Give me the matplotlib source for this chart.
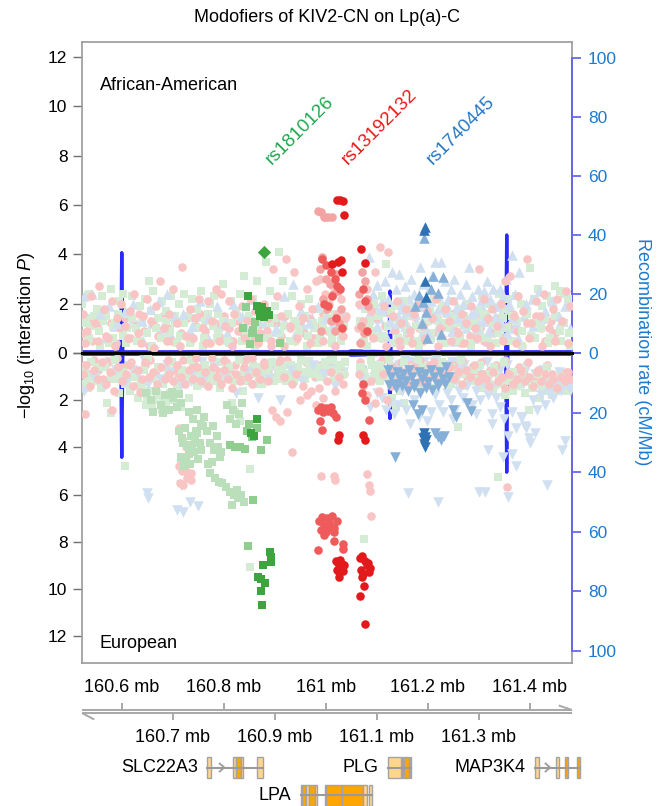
import numpy as np
import matplotlib.pyplot as plt
from matplotlib.patches import Rectangle

plt.rcParams['font.family'] = ['Liberation Sans', 'DejaVu Sans']
plt.rcParams['mathtext.fontset'] = 'custom'
plt.rcParams['mathtext.rm'] = 'Liberation Sans'
plt.rcParams['mathtext.it'] = 'Liberation Sans:italic'

# SNP positions are kb past chr6:160,000 kb; values are -log10(interaction P)

# ---- African-American (upper panel) ----
aa_pink_kb = [524, 531, 540, 548, 556, 565, 573, 581, 590, 599,
              607, 616, 624, 632, 641, 650, 658, 667, 675, 683,
              692, 701, 709, 718, 726, 734, 743, 752, 760, 769,
              777, 785, 794, 803, 811, 820, 828, 836, 845, 854,
              862, 871, 879, 887, 896, 905, 913, 922, 930, 938,
              947, 956, 964, 973, 981, 989, 998, 1006, 1014, 1022,
              1030, 1037, 1066, 1073, 1081, 1089, 1097, 1106, 1114, 1123,
              1131, 1139, 1148, 1157, 1165, 1174, 1182, 1190, 1199, 1208,
              1216, 1225, 1233, 1241, 1250, 1259, 1267, 1276, 1284, 1292,
              1301, 1310, 1318, 1327, 1335, 1343, 1352, 1361, 1369, 1378,
              1386, 1394, 1403, 1412, 1420, 1429, 1437, 1445, 1454, 1463,
              1471, 1479, 527, 553, 586, 612, 637, 663, 688, 714,
              739, 765, 790, 816, 842, 867, 893, 918, 944, 969,
              995, 1019, 1034, 1070, 1093, 1119, 1144, 1170, 1195, 1221,
              1246, 1272, 1297, 1323, 1348, 1374, 1399, 1425, 1450, 1476]
aa_pink_p = [1.6, 0.9, 2.3, 1.2, 2.7, 1.8, 0.6, 2.1, 1.4, 2.0,
             1.1, 1.7, 2.4, 0.8, 1.5, 2.2, 1.3, 1.9, 2.9, 1.0,
             1.6, 2.6, 1.2, 3.5, 0.7, 1.8, 1.4, 2.2, 1.0, 2.1,
             1.3, 2.6, 2.4, 1.1, 2.1, 1.6, 0.9, 1.9, 1.3, 2.2,
             1.7, 0.8, 2.0, 1.4, 3.4, 2.3, 1.5, 3.8, 1.1, 3.3,
             1.9, 1.4, 2.6, 1.8, 2.9, 3.0, 2.4, 2.0, 2.7, 1.6,
             2.2, 1.4, 2.0, 1.3, 2.6, 1.7, 3.3, 4.3, 1.9, 4.1,
             1.5, 2.1, 1.2, 1.8, 0.9, 1.6, 2.0, 1.1, 1.7, 1.4,
             2.2, 1.0, 1.8, 1.3, 2.1, 0.8, 1.6, 1.2, 1.9, 1.0,
             3.4, 2.2, 1.4, 1.8, 1.1, 2.0, 2.9, 3.1, 1.5, 2.3,
             1.7, 3.8, 1.2, 2.1, 1.5, 2.4, 1.0, 1.8, 2.2, 1.3,
             2.5, 1.9, 0.4, 0.5, 0.3, 0.6, 0.4, 0.2, 0.5, 0.3,
             0.6, 0.4, 0.5, 0.3, 0.6, 0.4, 0.5, 0.3, 0.6, 0.4,
             0.5, 0.3, 0.7, 0.4, 0.6, 0.3, 0.5, 0.4, 0.6, 0.3,
             0.5, 0.4, 0.6, 0.3, 0.5, 0.4, 0.6, 0.3, 0.5, 0.4]

aa_green_kb = [522, 529, 536, 544, 552, 561, 569, 578, 586, 594,
               603, 611, 620, 628, 636, 645, 654, 662, 671, 679,
               687, 696, 705, 713, 722, 730, 738, 747, 756, 764,
               773, 781, 789, 798, 807, 815, 824, 832, 840, 849,
               858, 866, 875, 883, 891, 900, 909, 917, 926, 934,
               942, 951, 960, 968, 977, 985, 993, 1002, 1011, 1019,
               1027, 1036, 1068, 1077, 1085, 1094, 1102, 1110, 1119, 1128,
               1136, 1144, 1153, 1162, 1170, 1178, 1187, 1196, 1204, 1212,
               1221, 1230, 1238, 1246, 1255, 1264, 1272, 1280, 1289, 1298,
               1306, 1314, 1323, 1332, 1340, 1348, 1357, 1366, 1374, 1382,
               1391, 1400, 1408, 1416, 1425, 1434, 1442, 1450, 1459, 1468,
               1476, 1482, 533, 558, 583, 608, 634, 659, 684, 709,
               735, 760, 786, 811, 836, 862, 887, 912, 938, 963,
               988, 1013, 1030, 1080, 1106, 1131, 1157, 1182, 1207, 1233,
               1258, 1284, 1309, 1334, 1360, 1385, 1410, 1436, 1461, 1479]
aa_green_p = [2.0, 1.4, 2.4, 1.1, 1.8, 2.3, 1.5, 2.6, 1.2, 2.1,
              2.4, 1.6, 2.3, 1.0, 1.9, 2.2, 2.9, 2.5, 1.4, 2.1,
              1.7, 2.3, 1.2, 2.0, 2.4, 1.5, 2.2, 1.8, 2.5, 1.3,
              2.0, 2.3, 1.6, 2.8, 1.2, 2.1, 1.7, 2.4, 3.1, 1.5,
              2.2, 2.9, 1.4, 3.7, 2.5, 1.9, 4.1, 2.9, 1.6, 2.3,
              1.2, 2.0, 1.5, 2.2, 1.0, 1.8, 1.3, 2.1, 0.9, 1.6,
              1.4, 1.1, 1.3, 1.8, 1.0, 2.0, 1.5, 2.3, 3.6, 1.7,
              1.9, 1.2, 2.1, 1.5, 1.8, 1.1, 2.0, 1.4, 1.7, 2.2,
              1.3, 1.9, 1.6, 2.1, 1.2, 1.8, 1.5, 2.0, 1.1, 1.7,
              2.3, 1.6, 2.0, 1.3, 2.4, 1.8, 2.2, 1.5, 2.3, 2.0,
              1.7, 3.45, 2.2, 2.6, 1.9, 2.3, 2.1, 2.7, 2.5, 2.4,
              2.2, 1.9, 0.5, 0.3, 0.6, 0.4, 0.5, 0.3, 0.6, 0.4,
              0.5, 0.3, 0.6, 0.4, 0.5, 0.3, 0.6, 0.4, 0.5, 0.3,
              0.6, 0.4, 0.5, 0.3, 0.6, 0.4, 0.5, 0.3, 0.6, 0.4,
              0.5, 0.3, 0.6, 0.4, 0.5, 0.3, 0.6, 0.4, 0.5, 0.3]

aa_blue_kb = [526, 541, 557, 574, 590, 606, 623, 640, 656, 673,
              689, 703, 720, 737, 753, 770, 786, 803, 819, 836,
              852, 869, 885, 902, 918, 935, 951, 968, 984, 1001,
              1017, 1034, 1072, 1085, 1093, 1101, 1108, 1116, 1123, 1130,
              1137, 1143, 1149, 1155, 1161, 1167, 1173, 1179, 1185, 1191,
              1197, 1203, 1209, 1215, 1221, 1227, 1233, 1239, 1245, 1251,
              1257, 1263, 1269, 1275, 1281, 1287, 1293, 1299, 1305, 1311,
              1317, 1323, 1329, 1335, 1341, 1347, 1353, 1359, 1365, 1371,
              1380, 1392, 1405, 1418, 1431, 1444, 1457, 1470, 1140, 1152,
              1164, 1176, 1188, 1200, 1212, 1224, 1236, 1248, 1260, 1272,
              1284, 1296, 1308, 1320, 1332, 1344, 1356, 1368, 1100, 1126]
aa_blue_p = [2.3, 2.4, 1.6, 1.9, 1.2, 1.7, 2.0, 1.3, 1.8, 2.1,
             2.4, 1.5, 1.6, 1.1, 2.1, 1.4, 1.9, 1.2, 2.0, 1.5,
             2.2, 1.3, 1.8, 1.0, 2.3, 2.8, 1.7, 1.2, 1.9, 1.4,
             1.1, 1.6, 2.0, 3.9, 2.4, 2.75, 1.8, 2.9, 2.2, 3.3,
             2.6, 3.2, 2.0, 2.7, 1.7, 3.0, 2.4, 2.1, 3.5, 2.8,
             1.9, 2.6, 3.1, 3.7, 2.3, 3.7, 2.9, 2.2, 2.6, 3.0,
             1.8, 2.4, 2.0, 2.8, 3.5, 2.3, 1.7, 2.6, 2.1, 2.5,
             2.9, 2.2, 2.6, 1.9, 2.6, 2.3, 3.0, 2.0, 3.97, 2.4,
             3.3, 2.0, 2.2, 2.5, 1.7, 2.1, 1.5, 1.9, 1.2, 1.4,
             1.0, 1.6, 1.3, 0.8, 1.5, 1.1, 1.7, 0.9, 1.4, 1.2,
             1.6, 1.0, 1.3, 0.9, 1.5, 1.2, 0.8, 1.4, 1.1, 1.3]

# the crowded floor of weak SNPs just above zero
aa_floor_pink_kb = [523, 533, 542, 551, 560, 570, 579, 588, 597, 606,
                    616, 625, 634, 643, 653, 662, 671, 680, 690, 699,
                    708, 717, 727, 736, 745, 754, 764, 773, 782, 791,
                    801, 810, 819, 828, 838, 847, 856, 865, 875, 884,
                    893, 902, 912, 921, 930, 939, 949, 958, 967, 976,
                    986, 995, 1004, 1013, 1023, 1032, 1039, 1064, 1071, 1080,
                    1089, 1098, 1108, 1117, 1126, 1135, 1145, 1154, 1163, 1172,
                    1182, 1191, 1200, 1209, 1219, 1228, 1237, 1246, 1256, 1265,
                    1274, 1283, 1293, 1302, 1311, 1320, 1330, 1339, 1348, 1357,
                    1367, 1376, 1385, 1394, 1404, 1413, 1422, 1431, 1441, 1450]
aa_floor_pink_p = [0.8, 1.3, 0.5, 1.1, 1.5, 0.7, 1.2, 0.4, 1.0, 1.4,
                   0.6, 1.1, 1.6, 0.9, 0.3, 1.2, 0.7, 1.5, 1.0, 0.5,
                   1.3, 0.8, 1.4, 0.6, 1.1, 1.6, 0.9, 0.4, 1.2, 0.7,
                   1.5, 1.0, 0.5, 1.3, 0.8, 1.4, 0.6, 1.1, 1.6, 0.9,
                   0.3, 1.2, 0.7, 1.5, 1.0, 0.5, 1.3, 0.8, 1.4, 0.6,
                   1.1, 1.6, 0.9, 0.4, 1.2, 0.7, 1.5, 1.0, 0.5, 1.3,
                   0.8, 1.4, 0.6, 1.1, 1.6, 0.9, 0.3, 1.2, 0.7, 1.5,
                   1.0, 0.5, 1.3, 0.8, 1.4, 0.6, 1.1, 1.6, 0.9, 0.4,
                   1.2, 0.7, 1.5, 1.0, 0.5, 1.3, 0.8, 1.4, 0.6, 1.1,
                   1.6, 0.9, 0.3, 1.2, 0.7, 1.5, 1.0, 0.5, 1.3, 0.8]
aa_floor_green_kb = [527, 536, 546, 555, 564, 574, 583, 593, 602, 611,
                     621, 630, 639, 649, 658, 667, 677, 686, 695, 705,
                     714, 723, 733, 742, 751, 761, 770, 779, 789, 798,
                     807, 817, 826, 835, 845, 854, 863, 873, 882, 891,
                     901, 910, 919, 929, 938, 947, 957, 966, 975, 985,
                     994, 1003, 1013, 1022, 1031, 1067, 1076, 1086, 1095, 1104,
                     1114, 1123, 1132, 1142, 1151, 1160, 1170, 1179, 1188, 1198,
                     1207, 1216, 1226, 1235, 1244, 1254, 1263, 1272, 1282, 1291,
                     1300, 1310, 1319, 1328, 1338, 1347, 1356, 1366, 1375, 1384,
                     1394, 1403, 1412, 1422, 1431, 1440, 1450, 1459, 1468, 1478]
aa_floor_green_p = [1.2, 0.6, 1.5, 0.9, 1.3, 0.4, 1.1, 1.6, 0.7, 1.0,
                    1.4, 0.5, 1.2, 0.8, 1.7, 1.0, 0.6, 1.3, 0.9, 1.5,
                    0.7, 1.2, 0.4, 1.4, 1.0, 0.6, 1.6, 1.1, 0.8, 1.3,
                    0.5, 1.2, 1.5, 0.9, 0.7, 1.3, 1.0, 1.6, 0.6, 1.2,
                    1.4, 0.8, 1.1, 0.5, 1.3, 0.9, 1.5, 0.7, 1.2, 0.4,
                    1.0, 1.4, 0.6, 1.1, 0.8, 1.2, 0.5, 1.3, 0.9, 1.5,
                    0.7, 1.1, 1.4, 0.6, 1.2, 0.9, 1.5, 0.5, 1.0, 1.3,
                    0.8, 1.4, 0.6, 1.2, 1.0, 1.5, 0.7, 1.1, 0.4, 1.3,
                    0.9, 1.5, 0.6, 1.2, 0.8, 1.4, 1.0, 0.5, 1.3, 0.9,
                    1.6, 0.7, 1.2, 1.0, 1.4, 0.6, 1.5, 0.9, 1.2, 0.8]
aa_floor_blue_kb = [530, 548, 567, 585, 604, 622, 641, 659, 678, 696,
                    715, 733, 752, 770, 789, 807, 826, 844, 863, 881,
                    900, 918, 937, 955, 974, 992, 1011, 1029, 1068, 1084,
                    1096, 1104, 1111, 1119, 1127, 1134, 1141, 1148, 1156, 1163,
                    1170, 1177, 1185, 1192, 1199, 1206, 1214, 1221, 1228, 1235,
                    1243, 1250, 1257, 1264, 1272, 1279, 1286, 1293, 1301, 1308,
                    1315, 1322, 1330, 1337, 1344, 1351, 1359, 1366, 1373, 1388,
                    1406, 1425, 1443, 1462, 1480, 1118, 1131, 1146, 1159, 1174,
                    1189, 1203, 1218, 1232, 1247, 1261, 1276, 1290, 1305, 1319,
                    1334, 1348, 1363, 1377, 1107, 1139, 1167, 1196, 1224, 1253]
aa_floor_blue_p = [0.9, 1.3, 0.6, 1.1, 0.8, 1.4, 0.5, 1.2, 1.0, 0.7,
                   1.3, 0.9, 1.5, 0.6, 1.1, 0.8, 1.4, 1.0, 0.5, 1.2,
                   0.9, 1.3, 0.7, 1.1, 1.4, 0.6, 1.0, 0.8, 1.2, 1.6,
                   1.9, 1.4, 2.1, 1.7, 1.2, 2.0, 1.5, 1.8, 1.1, 2.2,
                   1.6, 1.3, 1.9, 1.0, 1.7, 2.1, 1.4, 1.8, 1.2, 2.0,
                   1.5, 1.1, 1.9, 1.6, 1.3, 2.0, 1.4, 1.7, 1.2, 1.8,
                   1.5, 1.0, 1.9, 1.3, 1.6, 1.1, 1.8, 1.4, 1.2, 1.5,
                   1.1, 1.4, 0.9, 1.3, 1.0, 0.7, 1.0, 0.6, 0.9, 0.5,
                   0.8, 0.6, 1.0, 0.5, 0.9, 0.7, 1.0, 0.6, 0.8, 0.5,
                   0.9, 0.7, 1.0, 0.6, 0.8, 0.5, 0.7, 0.6, 0.9, 0.5]

aa_green_mid_kb = [843, 861, 855, 857, 852, 838, 870, 910]
aa_green_mid_p = [1.85, 1.25, 0.8, 0.95, 0.35, 1.0, 0.6, 0.4]
aa_green_dark_kb = [847, 866, 870, 875, 880, 885, 889, 872, 878]
aa_green_dark_p = [2.3, 1.9, 1.75, 1.85, 1.6, 1.7, 1.55, 1.5, 1.45]

aa_red_light_kb = [985, 990, 996, 999, 1005, 1012, 992, 988, 1000, 1008,
                   1015, 1020, 994, 1003, 1011, 1018, 1024, 1030, 1026, 990,
                   1066, 1072, 1078, 1083, 1070, 1076, 1080, 1068]
aa_red_light_p = [5.75, 5.7, 5.5, 5.5, 5.5, 5.5, 3.9, 3.4, 3.0, 2.8,
                  2.4, 3.2, 2.2, 1.8, 1.3, 0.9, 2.5, 1.8, 1.2, 0.9,
                  2.4, 3.3, 2.9, 1.9, 1.1, 0.8, 2.2, 0.4]
aa_red_mid_kb = [992, 1000, 1010, 1018, 1022, 1028, 996, 1005, 1013, 1020,
                 1032, 1074, 1077, 1080]
aa_red_mid_p = [3.8, 3.55, 3.3, 3.0, 2.7, 2.6, 2.0, 1.9, 2.3, 1.4,
                1.0, 2.6, 2.1, 0.9]
aa_red_dark_kb = [1022, 1028, 1034, 1035, 1024, 1030, 1069, 1078, 1012, 1032]
aa_red_dark_p = [6.2, 6.2, 6.15, 5.6, 3.7, 3.75, 4.2, 3.65, 3.6, 3.3]

aa_blue_mid_kb = [1182, 1190, 1196, 1211, 1230, 1206, 1220, 1188, 1199, 1193, 1226, 1176]
aa_blue_mid_p = [2.35, 2.05, 1.65, 3.1, 3.08, 2.6, 2.45, 1.2, 0.6, 4.67, 0.75, 1.9]
aa_blue_dark_kb = [1193, 1195, 1194, 1196]
aa_blue_dark_p = [5.0, 5.12, 2.9, 2.27]

# ---- European (lower panel, drawn downwards) ----
eu_pink_kb = [523, 530, 538, 546, 553, 561, 569, 577, 584, 592,
              600, 608, 615, 623, 631, 639, 646, 654, 662, 670,
              677, 685, 693, 701, 708, 716, 724, 732, 739, 747,
              755, 763, 770, 778, 786, 794, 801, 809, 817, 825,
              832, 840, 848, 856, 863, 871, 879, 887, 894, 902,
              910, 918, 925, 933, 941, 949, 956, 964, 972, 980,
              987, 995, 1003, 1011, 1018, 1026, 1034, 1066, 1073, 1081,
              1089, 1097, 1104, 1112, 1120, 1128, 1135, 1143, 1151, 1159,
              1166, 1174, 1182, 1190, 1197, 1205, 1213, 1221, 1228, 1236,
              1244, 1252, 1259, 1267, 1275, 1283, 1290, 1298, 1306, 1314,
              1321, 1329, 1337, 1345, 1352, 1360, 1368, 1376, 1383, 1391,
              1399, 1407, 1414, 1422, 1430, 1438, 1445, 1453, 1461, 1469,
              1476, 1481, 527, 580, 635, 690, 745, 800, 855, 910]
eu_pink_p = [0.9, 0.5, 1.4, 0.7, 1.1, 0.4, 1.3, 0.8, 1.6, 0.6,
             1.2, 0.9, 0.5, 1.4, 0.7, 1.1, 0.4, 1.0, 0.8, 1.3,
             0.6, 1.1, 0.9, 1.2, 0.5, 1.0, 1.3, 0.7, 1.1, 0.6,
             1.2, 0.8, 1.4, 0.6, 1.0, 1.3, 0.7, 1.1, 1.5, 0.9,
             1.2, 0.6, 1.0, 1.3, 0.8, 1.1, 0.5, 1.2, 2.4, 2.7,
             2.9, 1.0, 2.5, 1.3, 0.9, 2.0, 1.4, 1.8, 1.6, 2.2,
             1.5, 1.9, 1.2, 0.8, 1.6, 1.0, 1.3, 0.9, 1.4, 1.8,
             1.2, 2.1, 1.6, 0.9, 2.0, 1.4, 0.7, 1.1, 0.8, 1.3,
             1.0, 0.6, 1.2, 0.8, 1.1, 0.5, 1.0, 0.7, 1.2, 0.9,
             0.6, 1.1, 0.8, 1.3, 0.7, 1.0, 0.5, 1.2, 0.9, 1.1,
             1.4, 0.8, 1.2, 1.0, 1.5, 0.9, 1.3, 1.1, 0.7, 1.2,
             1.0, 1.4, 0.8, 1.2, 0.9, 1.3, 1.1, 1.5, 1.0, 1.2,
             0.8, 1.1, 2.6, 2.4, 1.65, 0.3, 0.2, 0.3, 0.2, 0.3]
eu_pink_extra_kb = [990, 1017, 1019, 1081, 1085, 1087, 1089, 933, 1355, 712,
                    718, 724, 730, 736, 714, 721, 728, 735, 716, 726,
                    712, 719, 726, 733]
eu_pink_extra_p = [5.2, 5.2, 5.4, 5.15, 5.6, 5.85, 6.9, 4.2, 5.7, 4.8,
                   5.0, 4.9, 5.2, 5.4, 5.5, 5.6, 5.3, 5.1, 4.6, 4.4,
                   3.2, 3.6, 4.0, 3.9]

eu_green_kb = [522, 527, 534, 541, 549, 556, 564, 571, 579, 587,
               594, 602, 610, 617, 625, 632, 640, 648, 655, 663,
               671, 678, 686, 694, 701, 709, 716, 724, 732, 739,
               747, 755, 762, 770, 777, 785, 793, 800, 808, 816,
               823, 831, 838, 846, 854, 861, 869, 877, 884, 892,
               899, 907, 915, 922, 930, 938, 945, 953, 961, 968,
               976, 983, 991, 999, 1007, 1014, 1022, 1030, 1037, 1068,
               1076, 1084, 1091, 1099, 1107, 1114, 1122, 1130, 1137, 1145,
               1153, 1160, 1168, 1176, 1183, 1191, 1199, 1206, 1214, 1222,
               1229, 1237, 1245, 1252, 1260, 1268, 1275, 1283, 1291, 1298,
               1306, 1314, 1321, 1329, 1337, 1344, 1352, 1360, 1367, 1375,
               1383, 1390, 1398, 1406, 1413, 1421, 1429, 1436, 1444, 1452,
               1459, 1467, 1474, 1481, 606, 650, 660, 670, 680, 690]
eu_green_p = [1.3, 0.7, 1.5, 1.0, 1.2, 0.6, 1.4, 2.1, 2.55, 1.1,
              1.7, 0.8, 1.3, 1.6, 1.0, 1.9, 1.4, 2.2, 1.6, 2.0,
              1.8, 2.4, 2.1, 1.7, 2.0, 1.5, 2.3, 1.2, 1.9, 1.0,
              1.4, 0.9, 1.3, 1.1, 0.7, 1.2, 1.5, 0.8, 1.0, 2.1,
              2.5, 2.9, 1.6, 1.2, 0.9, 1.3, 0.6, 1.1, 0.8, 1.0,
              1.2, 0.7, 1.1, 0.5, 0.9, 1.2, 0.6, 1.0, 0.8, 0.4,
              0.9, 0.6, 1.0, 0.5, 0.8, 0.3, 0.7, 0.5, 0.4, 0.6,
              0.8, 1.1, 0.5, 0.9, 1.2, 0.7, 1.0, 1.9, 2.3, 1.6,
              2.1, 1.3, 1.0, 0.8, 1.4, 0.6, 1.1, 0.9, 1.5, 0.7,
              1.2, 0.8, 1.3, 1.0, 3.13, 1.4, 0.9, 1.2, 0.7, 1.1,
              1.5, 1.2, 0.9, 1.6, 5.24, 1.3, 1.8, 1.1, 1.6, 1.4,
              1.2, 1.7, 2.4, 1.5, 1.3, 1.9, 1.6, 1.4, 1.8, 1.2,
              1.5, 1.3, 1.6, 1.4, 4.8, 1.9, 2.3, 1.7, 2.1, 2.4]

eu_floor_pink_kb = [526, 535, 545, 554, 563, 573, 582, 591, 600, 609,
                    619, 628, 637, 646, 656, 665, 674, 683, 693, 702,
                    711, 720, 730, 739, 748, 757, 767, 776, 785, 794,
                    804, 813, 822, 831, 841, 850, 859, 868, 878, 887,
                    896, 905, 915, 924, 933, 942, 952, 961, 970, 979,
                    989, 998, 1007, 1016, 1026, 1035, 1067, 1074, 1083, 1092,
                    1101, 1111, 1120, 1129, 1138, 1148, 1157, 1166, 1175, 1185,
                    1194, 1203, 1212, 1222, 1231, 1240, 1249, 1259, 1268, 1277,
                    1286, 1296, 1305, 1314, 1323, 1333, 1342, 1351, 1360, 1370,
                    1379, 1388, 1397, 1407, 1416, 1425, 1434, 1444, 1453, 1471]
eu_floor_pink_p = [0.5, 0.9, 0.3, 0.7, 1.1, 0.4, 0.8, 0.2, 0.6, 1.0,
                   0.4, 0.8, 1.2, 0.5, 0.3, 0.9, 0.6, 1.1, 0.4, 0.7,
                   1.0, 0.3, 0.8, 0.5, 1.2, 0.6, 0.9, 0.2, 0.7, 1.1,
                   0.4, 0.8, 0.5, 1.0, 0.3, 0.9, 0.6, 1.2, 0.4, 0.7,
                   1.0, 0.5, 0.8, 0.3, 1.1, 0.6, 0.9, 0.4, 0.7, 1.0,
                   0.5, 0.8, 0.3, 1.1, 0.6, 0.9, 0.4, 0.7, 1.2, 0.5,
                   0.8, 0.3, 1.0, 0.6, 0.9, 0.4, 1.1, 0.5, 0.8, 0.3,
                   0.7, 1.0, 0.4, 0.9, 0.6, 1.2, 0.5, 0.8, 0.3, 1.0,
                   0.6, 0.9, 0.4, 1.1, 0.7, 0.5, 1.0, 0.3, 0.8, 1.2,
                   0.6, 0.9, 0.4, 1.1, 0.7, 1.3, 0.5, 0.9, 1.2, 0.8]
eu_floor_green_kb = [522, 531, 540, 550, 559, 568, 578, 587, 596, 606,
                     615, 624, 634, 643, 652, 662, 671, 680, 690, 699,
                     708, 718, 727, 736, 746, 755, 764, 774, 783, 792,
                     802, 811, 820, 830, 839, 848, 858, 867, 876, 886,
                     895, 904, 914, 923, 932, 942, 951, 960, 970, 979,
                     988, 998, 1007, 1016, 1026, 1035, 1069, 1078, 1088, 1097,
                     1106, 1116, 1125, 1134, 1144, 1153, 1162, 1172, 1181, 1190,
                     1200, 1209, 1218, 1228, 1237, 1246, 1256, 1265, 1274, 1284,
                     1293, 1302, 1312, 1321, 1330, 1340, 1349, 1358, 1368, 1377,
                     1386, 1396, 1405, 1414, 1424, 1433, 1442, 1452, 1461, 1480]
eu_floor_green_p = [0.8, 1.2, 0.4, 1.0, 1.5, 0.6, 1.1, 0.3, 0.9, 1.3,
                    0.5, 1.0, 1.4, 0.7, 0.2, 1.1, 0.6, 1.3, 0.8, 0.4,
                    1.2, 0.7, 1.0, 0.3, 0.9, 1.3, 0.5, 0.8, 1.1, 0.4,
                    1.0, 0.6, 1.2, 0.3, 0.8, 1.1, 0.5, 0.9, 1.3, 0.6,
                    0.4, 1.0, 0.7, 1.2, 0.5, 0.9, 0.3, 1.1, 0.6, 0.8,
                    1.0, 0.4, 0.7, 1.1, 0.5, 0.9, 0.6, 1.0, 0.3, 0.8,
                    0.5, 0.9, 0.3, 0.7, 1.0, 0.4, 0.8, 0.6, 0.3, 0.9,
                    0.5, 0.7, 1.0, 0.4, 0.8, 0.6, 1.1, 0.3, 0.9, 0.7,
                    1.2, 0.5, 0.9, 1.3, 0.6, 1.0, 0.4, 1.2, 0.8, 1.4,
                    0.7, 1.1, 1.5, 0.9, 1.3, 0.6, 1.2, 1.6, 1.0, 1.3]
eu_floor_blue_kb = [529, 551, 574, 597, 620, 643, 666, 689, 712, 735,
                    758, 781, 804, 827, 850, 873, 896, 919, 942, 965,
                    988, 1011, 1033, 1072, 1094, 1108, 1116, 1124, 1131, 1139,
                    1147, 1155, 1162, 1170, 1178, 1186, 1193, 1201, 1209, 1217,
                    1224, 1232, 1240, 1248, 1255, 1263, 1271, 1279, 1286, 1294,
                    1302, 1310, 1317, 1325, 1333, 1341, 1348, 1356, 1364, 1372,
                    1379, 1387, 1395, 1403, 1410, 1418, 1426, 1434, 1441, 1449,
                    1457, 1465, 1472, 1480, 1143, 1166, 1189, 1213, 1236, 1259]
eu_floor_blue_p = [0.6, 0.9, 0.4, 1.1, 0.7, 0.3, 1.0, 0.5, 0.8, 1.2,
                   0.4, 0.9, 0.6, 1.0, 0.3, 0.8, 0.5, 1.1, 0.7, 0.4,
                   0.9, 0.6, 0.8, 0.7, 1.0, 0.5, 0.9, 0.4, 1.2, 0.6,
                   1.0, 0.3, 0.8, 1.3, 0.5, 0.9, 0.4, 1.1, 0.7, 0.3,
                   1.0, 0.6, 0.9, 0.4, 1.2, 0.7, 0.5, 1.0, 0.8, 1.3,
                   0.6, 1.1, 0.4, 0.9, 1.4, 0.7, 1.2, 0.5, 1.0, 1.5,
                   0.8, 1.3, 0.6, 1.1, 0.9, 1.4, 0.7, 1.2, 1.0, 1.5,
                   0.8, 1.3, 1.1, 1.6, 0.5, 0.4, 0.5, 0.4, 0.5, 0.4]

eu_blue_kb = [525, 545, 566, 588, 609, 631, 652, 674, 695, 717,
              738, 760, 781, 803, 824, 846, 867, 889, 910, 932,
              953, 975, 996, 1018, 1070, 1086, 1100, 1110, 1118, 1126,
              1134, 1142, 1150, 1158, 1166, 1174, 1182, 1190, 1198, 1206,
              1214, 1222, 1230, 1238, 1246, 1254, 1262, 1270, 1278, 1286,
              1294, 1302, 1310, 1318, 1326, 1334, 1342, 1350, 1358, 1366,
              1374, 1382, 1390, 1398, 1406, 1414, 1422, 1430, 1438, 1446,
              1454, 1462, 1470, 1478, 649, 652, 708, 720, 733, 750,
              1162, 1221, 1300, 1312, 1358, 1433, 1463, 1470, 1348, 1318,
              1384, 1392, 1400, 1410, 1373, 1365, 1326, 1294, 1250, 716]
eu_blue_p = [1.6, 1.0, 1.4, 0.7, 1.2, 0.9, 1.3, 1.1, 0.8, 1.35,
             0.9, 1.2, 0.6, 1.0, 1.7, 0.8, 1.9, 1.1, 2.0, 0.7,
             1.2, 0.5, 0.9, 1.4, 1.1, 2.3, 1.7, 1.9, 2.4, 2.1,
             2.6, 2.2, 1.6, 2.4, 3.0, 2.0, 2.7, 1.5, 2.9, 2.5,
             1.8, 2.2, 2.5, 1.7, 2.0, 2.4, 1.6, 1.9, 1.4, 2.2,
             1.6, 2.0, 1.3, 1.8, 2.6, 1.9, 2.3, 2.8, 3.5, 2.5,
             3.2, 2.7, 3.1, 3.6, 2.0, 2.4, 1.8, 2.2, 1.7, 1.9,
             1.4, 1.6, 1.3, 1.5, 5.93, 6.15, 6.65, 6.75, 6.3, 6.5,
             5.93, 6.3, 5.88, 5.9, 6.1, 5.6, 4.1, 3.75, 4.4, 4.1,
             2.7, 3.2, 3.8, 3.4, 4.8, 4.3, 3.0, 2.6, 2.8, 5.6]

eu_green_l2_kb = [648, 658, 668, 676, 684, 692, 700, 708, 716, 662,
                  680, 698, 712, 712, 718, 724, 730, 736, 742, 748,
                  754, 760, 716, 726, 738, 750, 720, 732, 744, 756,
                  722, 734, 746, 768, 774, 780, 786, 792, 770, 778,
                  788, 795, 776, 732, 740, 748, 756, 762, 806, 812,
                  818, 824, 830, 835, 774, 782, 790, 796, 804, 812,
                  820, 828, 834, 840, 816, 826]
eu_green_l2_p = [1.7, 2.0, 1.6, 2.2, 1.8, 2.4, 1.9, 2.3, 2.1, 2.5,
                 2.55, 1.65, 1.75, 3.3, 3.6, 3.2, 3.9, 3.5, 4.2, 3.4,
                 3.8, 3.1, 4.4, 4.6, 4.0, 4.5, 3.8, 4.3, 3.7, 4.1,
                 4.8, 4.7, 3.3, 3.3, 3.8, 4.1, 3.5, 4.4, 4.7, 3.1,
                 4.0, 4.2, 4.6, 2.5, 2.8, 2.4, 3.0, 2.7, 2.2, 2.8,
                 2.4, 3.0, 2.6, 2.1, 5.1, 5.3, 5.45, 5.5, 5.7, 5.9,
                 6.0, 6.15, 6.0, 6.3, 6.45, 5.8]
eu_green_light_kb = [852, 1075, 851]
eu_green_light_p = [9.05, 7.9, 4.9]
eu_green_mid_kb = [812, 822, 832, 842, 849, 845, 855, 865, 874, 884, 858, 848]
eu_green_mid_p = [3.9, 4.0, 4.0, 4.05, 3.0, 3.3, 3.55, 3.2, 4.1, 3.7, 6.23, 8.2]
eu_green_dark_kb = [891, 893, 892, 877, 867, 873, 880, 874, 875, 866, 854, 860]
eu_green_dark_p = [8.42, 8.65, 8.85, 8.98, 9.5, 9.6, 9.75, 10.07, 10.7, 2.8, 3.4, 3.5]

eu_red_mid_kb = [985, 990, 995, 1000, 1005, 1010, 1015, 1020, 988, 992,
                 1084, 1072, 1078, 1074, 987, 992, 997, 1002, 1007, 1012,
                 1017, 1022, 990, 1000, 1010, 996, 1006, 1016, 985, 1017,
                 1033, 1034]
eu_red_mid_p = [2.4, 2.3, 2.5, 2.35, 2.45, 2.3, 2.55, 2.7, 2.9, 3.25,
                2.84, 1.7, 2.0, 1.3, 7.1, 6.95, 7.3, 7.0, 7.2, 6.9,
                7.4, 7.1, 7.5, 7.6, 7.45, 7.7, 7.3, 7.6, 8.35, 7.95,
                8.1, 8.3]
eu_red_dark_kb = [1020, 1024, 1028, 1032, 1036, 1022, 1026, 1030, 1034, 1027,
                  1067, 1072, 1077, 1082, 1086, 1069, 1074, 1080, 1084, 1071,
                  1075, 1068, 1078, 1027, 1024, 1074, 1077]
eu_red_dark_p = [8.8, 8.9, 8.77, 8.95, 9.0, 9.2, 9.3, 9.1, 9.25, 9.5,
                 8.7, 8.6, 8.8, 8.9, 9.1, 9.2, 9.35, 9.0, 9.3, 9.5,
                 9.86, 10.3, 11.5, 3.47, 3.7, 3.47, 3.68]

eu_blue_mid_kb = [1122, 1128, 1134, 1140, 1146, 1152, 1158, 1164, 1170, 1176,
                  1182, 1188, 1194, 1200, 1206, 1212, 1218, 1224, 1230, 1236,
                  1241, 1125, 1137, 1149, 1161, 1173, 1185, 1197, 1209, 1221,
                  1233, 1278, 1284, 1250, 1256, 1214, 1220, 1226, 1232, 1172,
                  1180, 1188, 1135]
eu_blue_mid_p = [0.7, 1.0, 1.3, 0.8, 1.1, 0.9, 1.2, 0.7, 1.0, 1.3,
                 0.8, 1.1, 0.9, 1.25, 0.7, 1.0, 1.3, 0.8, 1.1, 0.6,
                 1.0, 1.35, 1.5, 1.4, 1.6, 1.45, 1.7, 1.5, 1.55, 1.4,
                 1.3, 2.1, 2.45, 2.4, 2.7, 3.4, 3.55, 3.7, 3.5, 2.2,
                 2.6, 2.4, 4.4]
eu_blue_dark_kb = [1192, 1194, 1196, 1193, 1195, 1191]
eu_blue_dark_p = [3.4, 3.55, 3.7, 3.85, 4.0, 3.6]

# recombination rate (cM/Mb)
rec_kb = [522, 598, 600, 602, 1044, 1050, 1124, 1126, 1128, 1353, 1355, 1357, 1483]
aa_rec = [0.4, 0.4, 34, 0.4, 0.4, 0.7, 0.4, 21, 0.4, 0.4, 40, 0.4, 0.4]
eu_rec = [0.4, 0.4, 35, 0.4, 0.4, 0.7, 0.4, 22, 0.4, 0.4, 40, 0.4, 0.4]

# lead SNPs
lead_names = ['rs1810126', 'rs13192132', 'rs1740445']
lead_kb = [878, 1028, 1194]
lead_aa_p = [4.1, 6.2, 5.0]

# genome axis
top_ticks = [160.6, 160.8, 161.0, 161.2, 161.4]
bottom_ticks = [160.7, 160.9, 161.1, 161.3]

# genes: row, start, end, exons (start, end, coding?), strand arrow position
genes = {
    'SLC22A3': (0, 768, 877, [(768, 774.5, 0), (818, 823.5, 0), (824.5, 833, 1),
                              (834, 838, 0), (865, 877, 0)], 797),
    'PLG': (0, 1122, 1168, [(1122, 1148, 0), (1149.5, 1152, 0), (1153, 1163, 1),
                            (1164.5, 1168, 0)], None),
    'MAP3K4': (0, 1410, 1499, [(1410, 1417.5, 0), (1452, 1458, 0), (1469.5, 1476, 1),
                               (1493, 1499, 1)], 1436),
    'LPA': (1, 951, 1090, [(951, 953.5, 0), (953.5, 961, 1), (962, 966.5, 0),
                           (967.5, 978, 1), (978, 982, 0), (998, 1001.5, 0),
                           (1001.5, 1031.5, 1), (1032.5, 1073, 1), (1073, 1080, 0),
                           (1085, 1090, 0)], None),
}

PINK, GREEN, BLUE = '#f8c4c4', '#d4ebd4', '#d0e0f0'
GREEN2, GREEN3, GREEN4 = '#bbdfbb', '#90ce90', '#3ea53e'
RED2, RED3, RED4 = '#f4a3a3', '#ef5a5a', '#e31a1c'
BLUE3, BLUE4 = '#86afd8', '#2f72b4'
FRAME = '#9a9a9a'
REC_BLUE = '#2a2aff'
AXIS_BLUE = '#5b5bf0'
LABEL_BLUE = '#1c7bd0'

XMIN, XMAX = 160.522, 161.483


def mb(kb):
    return np.asarray(kb, dtype=float) / 1000 + 160.0


W, H = 663, 806
fig = plt.figure(figsize=(W / 100, H / 100), dpi=100)


def box(left, top, right, bottom):
    return [left / W, 1 - bottom / H, (right - left) / W, (bottom - top) / H]


ax_top = fig.add_axes(box(82, 42, 572, 353))
ax_bot = fig.add_axes(box(82, 353, 572, 663))


def dots(ax, kb, p, color, marker, size):
    ax.scatter(mb(kb), p, s=size, c=color, marker=marker, linewidths=0, zorder=3)


SQ, CI, TR = 36, 38, 58

# upper panel
up, dn = '^', 'v'
dots(ax_top, aa_floor_blue_kb, aa_floor_blue_p, BLUE, up, TR)
dots(ax_top, aa_floor_pink_kb, aa_floor_pink_p, PINK, 'o', CI)
dots(ax_top, aa_floor_green_kb, aa_floor_green_p, GREEN, 's', SQ)
dots(ax_top, aa_green_kb, aa_green_p, GREEN, 's', SQ)
dots(ax_top, aa_blue_kb, aa_blue_p, BLUE, up, TR)
dots(ax_top, aa_pink_kb, aa_pink_p, PINK, 'o', CI)
dots(ax_top, aa_green_mid_kb, aa_green_mid_p, GREEN3, 's', SQ)
dots(ax_top, aa_green_dark_kb, aa_green_dark_p, GREEN4, 's', SQ)
dots(ax_top, aa_red_light_kb, aa_red_light_p, RED2, 'o', CI)
dots(ax_top, aa_red_mid_kb, aa_red_mid_p, RED3, 'o', CI)
dots(ax_top, aa_red_dark_kb, aa_red_dark_p, RED4, 'o', CI)
dots(ax_top, aa_blue_mid_kb, aa_blue_mid_p, BLUE3, up, TR)
dots(ax_top, aa_blue_dark_kb, aa_blue_dark_p, BLUE4, up, TR)
dots(ax_top, lead_kb[:1], lead_aa_p[:1], GREEN4, 'D', 46)

# lower panel
dots(ax_bot, eu_floor_blue_kb, eu_floor_blue_p, BLUE, dn, TR)
dots(ax_bot, eu_floor_pink_kb, eu_floor_pink_p, PINK, 'o', CI)
dots(ax_bot, eu_floor_green_kb, eu_floor_green_p, GREEN, 's', SQ)
dots(ax_bot, eu_green_kb, eu_green_p, GREEN, 's', SQ)
dots(ax_bot, eu_blue_kb, eu_blue_p, BLUE, dn, TR)
dots(ax_bot, eu_pink_kb, eu_pink_p, PINK, 'o', CI)
dots(ax_bot, eu_pink_extra_kb, eu_pink_extra_p, PINK, 'o', CI)
dots(ax_bot, eu_green_light_kb, eu_green_light_p, GREEN, 's', SQ)
dots(ax_bot, eu_green_l2_kb, eu_green_l2_p, GREEN2, 's', SQ)
dots(ax_bot, eu_green_mid_kb, eu_green_mid_p, GREEN3, 's', SQ)
dots(ax_bot, eu_green_dark_kb, eu_green_dark_p, GREEN4, 's', SQ)
dots(ax_bot, eu_red_mid_kb, eu_red_mid_p, RED3, 'o', CI)
dots(ax_bot, eu_red_dark_kb, eu_red_dark_p, RED4, 'o', CI)
dots(ax_bot, eu_blue_mid_kb, eu_blue_mid_p, BLUE3, dn, TR)
dots(ax_bot, eu_blue_dark_kb, eu_blue_dark_p, BLUE4, dn, TR)

tick_vals = [0, 2, 4, 6, 8, 10, 12]
rate_vals = [0, 20, 40, 60, 80, 100]

for ax, rec, ylim, rlim, upper in [(ax_top, aa_rec, (0, 12.6), (0, 105.4), True),
                                   (ax_bot, eu_rec, (13.14, 0), (104.0, 0), False)]:
    axr = ax.twinx()
    axr.plot(mb(rec_kb), rec, color=REC_BLUE, lw=2.4, solid_capstyle='butt')
    axr.set_ylim(*rlim)
    axr.set_xlim(XMIN, XMAX)
    ax.set_zorder(axr.get_zorder() + 1)
    ax.patch.set_visible(False)
    ax.set_xlim(XMIN, XMAX)
    ax.set_ylim(*ylim)
    ax.set_xticks([])
    ax.set_yticks(tick_vals)
    ax.set_yticklabels([str(v) if (upper or v) else '' for v in tick_vals])
    ax.tick_params(axis='y', direction='out', length=6.5, width=1, color='#707070',
                   labelsize=12.5, pad=4)
    axr.set_yticks(rate_vals)
    axr.set_yticklabels([str(v) if (upper or v) else '' for v in rate_vals])
    axr.tick_params(axis='y', direction='out', length=6.5, width=1.2, color=AXIS_BLUE,
                    labelcolor=LABEL_BLUE, labelsize=12.5, pad=5)
    for side in ['left', 'right', 'top', 'bottom']:
        ax.spines[side].set_color(FRAME)
        ax.spines[side].set_linewidth(1.2)
        axr.spines[side].set_visible(False)
    ax.spines['right'].set_visible(False)
    axr.spines['right'].set_visible(True)
    axr.spines['right'].set_color(FRAME)
    axr.spines['right'].set_linewidth(1.2)
    axr.plot([XMAX, XMAX], [0, 100], color=AXIS_BLUE, lw=1.2, clip_on=False, zorder=5)
    if upper:
        ax.spines['bottom'].set_visible(False)
    else:
        ax.spines['top'].set_color('black')
        ax.spines['top'].set_linewidth(2.2)
        ax.spines['top'].set_zorder(10)

ax_top.text(160.557, 10.85, 'African-American', fontsize=13, va='center', ha='left')
ax_bot.text(160.557, 12.3, 'European', fontsize=13, va='center', ha='left')

for name, kb, col in zip(lead_names, lead_kb, ['#1fa84f', '#f01818', '#2477c4']):
    ax_top.text(mb(kb) + 0.016, 7.6, name, color=col, fontsize=13.5, rotation=45,
                rotation_mode='anchor', ha='left', va='baseline')

fig.text(327 / W, 1 - 18 / H, 'Modofiers of KIV2-CN on Lp(a)-C', fontsize=13,
         ha='center', va='center')
fig.text(27 / W, 1 - 335 / H, '\u2212log$_{10}$ (interaction $\\it{P}$)', fontsize=13,
         rotation=90, ha='center', va='center')
fig.text(643 / W, 1 - 352 / H, 'Recombination rate (cM/Mb)', fontsize=13,
         rotation=270, ha='center', va='center', color=LABEL_BLUE)

# genome coordinate axis (y in pixel rows of the figure)
ax_sc = fig.add_axes(box(82, 665, 572, 750))
ax_sc.set_xlim(XMIN, XMAX)
ax_sc.set_ylim(750, 665)
ax_sc.axis('off')
GREY = '#a8a8a8'
kw = dict(color=GREY, lw=1.4, clip_on=False, solid_capstyle='butt')
ax_sc.plot([XMIN, XMAX], [710, 710], **kw)
ax_sc.plot([XMIN, XMAX], [713, 713], **kw)
ax_sc.plot([XMAX - 0.026, XMAX], [705.5, 710], **kw)
ax_sc.plot([XMIN, XMIN + 0.024], [713, 719.5], **kw)
for v in top_ticks:
    ax_sc.plot([v, v], [703, 710], **kw)
    ax_sc.text(v, 688, f'{v:g} mb', ha='center', va='center', fontsize=13)
for v in bottom_ticks:
    ax_sc.plot([v, v], [713, 720], **kw)
    ax_sc.text(v, 738, f'{v:g} mb', ha='center', va='center', fontsize=13)

# gene track
ax_g = fig.add_axes(box(82, 750, 572, 806))
ax_g.set_xlim(XMIN, XMAX)
ax_g.set_ylim(806, 750)
ax_g.axis('off')
row_y = [767.5, 795]
for name, (row, start, end, exons, arrow) in genes.items():
    y = row_y[row]
    ax_g.plot(mb([start, end]), [y, y], color='#9a9a9a', lw=1.5, clip_on=False)
    for s, e, coding in exons:
        ax_g.add_patch(Rectangle((mb(s), y - 10.5), mb(e) - mb(s), 21,
                                 facecolor='#ffa500' if coding else '#ffd68c',
                                 edgecolor='#a3a3a3', lw=1.0, clip_on=False))
    if arrow is not None:
        ax_g.plot(mb([arrow - 5, arrow + 4, arrow - 5]), [y - 4, y, y + 4],
                  color='#9a9a9a', lw=1.3, clip_on=False)
    ax_g.text(mb(start - 18), y, name, ha='right', va='center', fontsize=13)

fig.savefig('out.png', dpi=100)
